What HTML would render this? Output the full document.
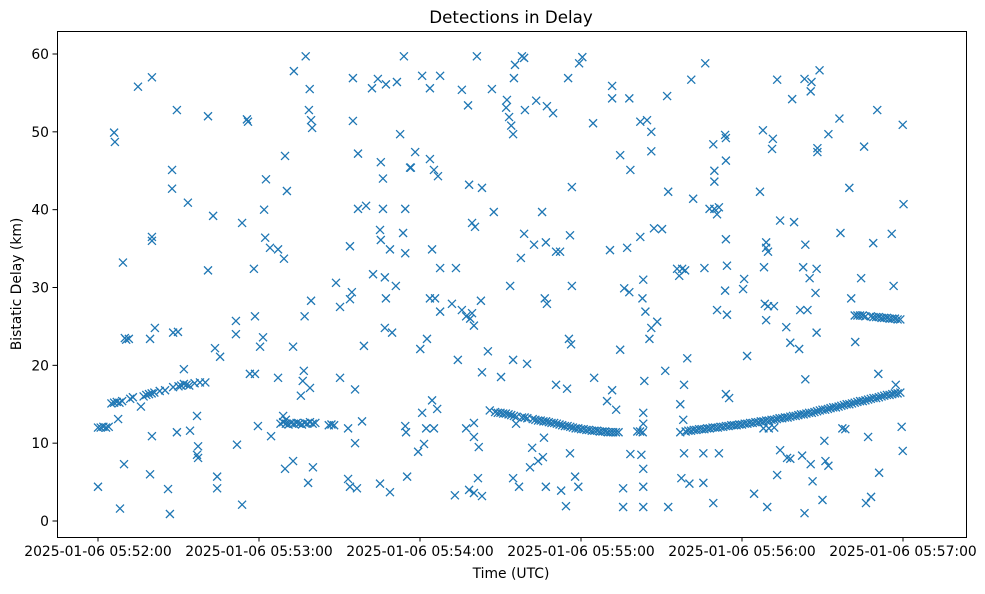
<!DOCTYPE html>
<html><head><meta charset="utf-8"><style>
body{margin:0;background:#fff;font-family:"DejaVu Sans",sans-serif}
svg text{font-family:"DejaVu Sans",sans-serif;fill:#000}
</style></head><body>
<svg id="chart" width="985" height="590" xmlns="http://www.w3.org/2000/svg">
<rect width="985" height="590" fill="#fff"/>
<text x="511" y="23" font-size="16.7" text-anchor="middle">Detections in Delay</text>
<text x="511" y="578" font-size="13.9" text-anchor="middle">Time (UTC)</text>
<text x="21" y="284" font-size="13.9" text-anchor="middle" transform="rotate(-90 21 284)">Bistatic Delay (km)</text>
<g id="ticks"></g>
<g id="marks"></g>
<rect x="57.5" y="31.5" width="909" height="506" fill="none" stroke="#000" stroke-width="1"/>
</svg>
<script>
const xTickSeconds=[0,60,120,180,240,300];
const xTickLabels=["2025-01-06 05:52:00","2025-01-06 05:53:00","2025-01-06 05:54:00","2025-01-06 05:55:00","2025-01-06 05:56:00","2025-01-06 05:57:00"];
const yTicks=[0,10,20,30,40,50,60];
const trackA=[[0,12],[1,12],[2,12.1],[3,12],[4,12.1],[5,15.1],[6,15.2],[7,15.3],[8,15.2],[9,15.4],[10,23.5],[10.5,23.3],[11.5,23.4],[12,15.7],[13,15.9],[16,14.7],[17,16.0],[18,16.2],[19,16.3],[20,16.4],[21,16.5],[23,16.7],[25,16.8],[28,17.2],[30,17.3],[31,17.4],[32,17.6],[33,17.5],[34,17.4],[36,17.7],[38,17.8],[40,17.8]];
const trackB=[[68,12.5],[69,12.7],[70,12.5],[71,12.4],[72,12.6],[73,12.5],[74,12.6],[75,12.5],[76,12.4],[77,12.6],[78,12.5],[79,12.7],[80,12.5],[81,12.6],[86,12.3],[87,12.4],[88,12.3],[69,13.5],[70,13.0]];
const trackC=[[146,14.2],[148,14.0],[149,13.9],[150,13.9],[151,13.8],[152,13.8],[153,13.7],[154,13.6],[155,13.5],[156,13.4],[158,13.3],[159,13.3],[160,13.2],[162,13.1],[163,13.0],[164,12.9],[165,12.9],[166,12.8],[167,12.8],[168,12.7],[169,12.6],[170,12.6],[171,12.5],[172,12.4],[173,12.3],[174,12.2],[175,12.2],[176,12.1],[177,12.0],[178,11.9],[179,11.9],[180,11.8],[181,11.8],[182,11.7],[183,11.7],[184,11.6],[185,11.6],[186,11.6],[187,11.5],[188,11.5],[189,11.5],[190,11.4],[191,11.4],[192,11.4],[193,11.4],[194,11.4],[201,11.5],[202,11.5],[203,11.4]];
const trackD=[[217,11.4],[219,11.5],[220,11.6],[221,11.6],[222,11.7],[223,11.7],[224,11.8],[225,11.8],[226,11.8],[227,11.9],[228,11.9],[229,12.0],[230,12.0],[231,12.0],[232,12.1],[233,12.1],[234,12.2],[235,12.2],[236,12.3],[237,12.3],[238,12.3],[239,12.4],[240,12.4],[241,12.5],[242,12.5],[243,12.6],[244,12.6],[245,12.7],[246,12.7],[247,12.8],[248,12.8],[249,12.9],[250,12.9],[251,13.0],[252,13.0],[253,13.1],[254,13.2],[255,13.2],[256,13.3],[257,13.3],[258,13.4],[259,13.5],[260,13.5],[261,13.6],[262,13.7],[263,13.7],[264,13.8],[265,13.9],[266,13.9],[267,14.0],[268,14.1],[269,14.2],[270,14.3],[271,14.3],[272,14.4],[273,14.5],[274,14.6],[275,14.6],[276,14.7],[277,14.8],[278,14.9],[279,15.0],[280,15.0],[281,15.1],[282,15.2],[283,15.3],[284,15.4],[285,15.4],[286,15.5],[287,15.6],[288,15.7],[289,15.8],[290,15.8],[291,15.9],[292,16.0],[293,16.1],[294,16.2],[295,16.2],[296,16.3],[297,16.4],[298,16.4],[299,16.5],[248,11.9],[250,11.9],[252,12.0]];
const trackE=[[282,26.4],[283,26.4],[284,26.4],[285,26.4],[286,26.3],[288,26.3],[289,26.2],[290,26.2],[291,26.2],[292,26.1],[293,26.1],[294,26.1],[295,26.0],[296,26.0],[297,26.0],[298,25.9],[299,25.9]];
const scatter=[[0,4.4],[6,49.9],[6.3,48.7],[8.2,1.6],[9.3,33.2],[9.7,7.3],[7.5,13.1],[14.9,55.8],[20.1,57.0],[20.1,36.5],[20.1,36.0],[19.4,6.0],[20.1,10.9],[21.2,24.8],[19.4,23.4],[27.6,45.1],[27.6,42.7],[29.4,52.8],[26.8,0.9],[26.1,4.1],[28,24.2],[29.8,24.3],[29.4,11.4],[32,19.5],[33.5,40.9],[34.3,11.6],[36.9,13.5],[37.3,9.6],[36.9,8.5],[37.3,8.1],[41,52.0],[41,32.2],[42.9,39.2],[43.6,22.2],[45.5,21.1],[44.4,5.7],[44.4,4.2],[51.8,9.8],[53.7,2.1],[51.4,25.7],[51.4,24.0],[53.7,38.3],[55.5,51.6],[55.9,51.3],[56.6,18.9],[58.5,18.9],[58.1,32.4],[58.5,26.3],[59.6,12.2],[60.4,22.4],[61.5,23.6],[62.3,36.4],[61.9,40],[62.6,43.9],[64.1,35.1],[64.5,10.9],[67.1,18.4],[67.1,34.9],[69.3,33.7],[69.7,46.9],[70.4,42.4],[69.7,6.7],[72.7,22.4],[72.7,7.7],[73,57.8],[75.6,16.1],[76.3,18.0],[76.7,19.3],[77,26.3],[77.4,59.7],[78.9,55.5],[78.6,52.8],[79.4,51.5],[79.8,50.5],[79.4,28.3],[78.3,4.9],[79,17.1],[80.1,6.9],[90.2,18.4],[90.2,27.5],[88.7,30.6],[93.2,5.4],[93.9,4.4],[96.5,4.2],[93.2,11.9],[93.9,35.3],[93.9,28.5],[94.6,29.4],[95,51.4],[95,56.9],[95.8,16.9],[95.8,10.0],[96.9,47.2],[96.9,40.1],[98.4,12.8],[99.1,22.5],[99.9,40.5],[102.1,55.6],[102.5,31.7],[104.3,56.8],[105.1,4.8],[105.1,37.4],[105.4,36.1],[105.4,46.1],[106.2,44.0],[106.2,40.1],[107.3,56.1],[106.9,24.8],[106.9,31.3],[107.3,28.6],[108.8,3.7],[108.8,34.9],[109.6,24.2],[111.4,56.4],[111,30.2],[112.6,49.7],[113.7,37.0],[114.5,40.1],[114.5,34.4],[114.5,12.2],[114.8,11.4],[114,59.7],[115.2,5.7],[116.3,45.4],[116.6,45.4],[118.2,47.4],[119.3,8.9],[120.1,22.1],[120.8,57.2],[121.5,9.9],[120.8,13.9],[122.3,11.9],[122.6,23.4],[123.7,46.5],[123.7,55.6],[123.7,28.6],[124.5,34.9],[124.5,15.5],[125.2,45.1],[126.7,44.3],[125.6,28.6],[126.4,14.4],[127.5,57.2],[127.5,26.9],[127.5,32.5],[125.2,11.9],[131.9,27.9],[133,3.3],[133.4,32.5],[134.1,20.7],[135.6,55.4],[135.6,27.1],[137.2,26.3],[137.2,11.9],[137.9,53.4],[138.3,43.2],[138.3,4.0],[138.7,26.0],[139.4,26.7],[139.4,38.3],[140.5,37.8],[140.1,3.6],[140.1,25.1],[140.1,12.6],[140.1,10.8],[141.2,59.7],[141.6,5.5],[141.9,9.5],[142.7,28.3],[143.1,42.8],[143.1,3.2],[143.1,19.1],[145.3,21.8],[147.5,39.7],[146.8,55.5],[150.2,18.5],[152.1,53.1],[152.4,54.1],[153.2,51.9],[154.7,49.7],[154,50.8],[153.6,30.2],[154.7,5.5],[154.7,20.7],[155,56.9],[155.4,58.6],[155.8,12.5],[156.9,4.4],[157.6,33.8],[158,59.7],[158.8,59.5],[158.8,36.9],[159.1,52.8],[159.9,20.2],[161,6.9],[161.8,9.4],[162.5,35.5],[163.3,54.0],[164,7.7],[165.5,39.7],[165.8,8.2],[166.2,10.7],[166.5,28.6],[166.9,35.8],[166.9,4.4],[167.3,53.3],[167.3,27.9],[169.6,52.4],[170.7,17.5],[170.7,34.6],[172.2,34.6],[172.6,3.9],[174.4,1.9],[174.8,17.0],[175.2,56.9],[175.5,23.4],[176.3,22.7],[175.9,36.7],[176.6,42.9],[177.8,5.7],[176.6,30.2],[175.9,8.7],[179,4.4],[179.3,58.8],[180.5,59.6],[184.5,51.1],[184.9,18.4],[189.7,15.4],[190.8,34.8],[191.6,55.9],[191.6,54.3],[191.6,16.8],[193.1,14.3],[194.6,22.0],[194.6,47.0],[195.7,4.2],[195.7,1.8],[196.1,29.9],[197.2,35.1],[198,29.4],[198,54.3],[198.4,45.1],[198.4,8.6],[202.1,51.3],[202.1,36.5],[202.5,8.5],[203.2,6.7],[202.9,28.6],[203.2,4.4],[203.2,1.8],[203.2,31.0],[203.2,12.5],[203.2,13.9],[204,26.9],[203.6,18.0],[204.6,51.5],[205.5,23.4],[206.2,47.5],[206.2,50.0],[206.2,24.8],[207.2,37.6],[208.4,25.6],[210.2,37.5],[211.4,19.3],[212.1,54.6],[212.5,42.3],[212.5,1.8],[215.8,32.4],[216.6,31.5],[217,15.0],[217.4,5.5],[217.7,32.4],[218.1,13.0],[218.4,17.5],[218.8,32.2],[218.4,8.7],[219.6,20.9],[220.4,4.8],[221.1,56.7],[221.8,41.4],[225.6,8.7],[225.6,4.9],[226,32.5],[226.3,58.8],[227.9,40.1],[229.3,48.4],[229.7,45.0],[229.7,43.6],[229.3,2.3],[229.7,40.1],[230.7,39.4],[230.7,27.1],[231.4,40.3],[231.4,8.7],[233.7,49.6],[234,49.2],[234,46.3],[234,36.2],[233.7,29.6],[234.4,32.8],[234.4,26.5],[234,16.3],[235.2,15.8],[240.4,29.8],[240.8,31.1],[241.9,21.2],[244.5,3.5],[246.7,42.3],[247.8,50.2],[248.2,32.6],[249,35.8],[249,35.1],[249.7,34.6],[248.5,27.9],[249.7,27.6],[249,25.8],[249.4,1.8],[251.2,47.8],[251.5,49.1],[251.9,27.6],[253.1,5.9],[253.1,56.7],[254.2,38.6],[254.2,9.1],[256.5,24.9],[256.8,8.1],[258,8.0],[258,22.9],[258.7,54.2],[259.4,38.4],[261.3,22.1],[261.7,27.1],[262.4,8.4],[262.8,32.6],[263.3,56.8],[263.6,18.2],[263.6,35.5],[263.3,1.0],[264.4,27.1],[265.2,31.2],[265.6,55.2],[265.9,56.4],[265.6,7.3],[266.3,5.1],[267.4,29.3],[267.8,24.2],[267.8,32.4],[268.1,47.9],[268.1,47.4],[268.9,57.9],[270,2.7],[270.7,10.3],[271.1,7.7],[272.2,49.7],[272.2,7.1],[276.3,51.7],[276.7,37.0],[277.4,11.9],[278.5,11.8],[280,42.8],[280.7,28.6],[282.2,23.0],[284.4,31.2],[285.5,48.1],[286.2,2.3],[287,10.8],[288.1,3.1],[288.9,35.7],[290.4,52.8],[291.1,6.2],[290.8,18.9],[295.8,36.9],[296.5,30.2],[297.3,17.5],[299.5,12.1],[299.9,9.0],[299.9,50.9],[300.2,40.7]];

const NS='http://www.w3.org/2000/svg';
const xScale=s=>98+s*(805/300);
const yScale=v=>521-v*(467/60);
const ticks=document.getElementById('ticks');
const marks=document.getElementById('marks');
function mk(tag,attrs,parent){const e=document.createElementNS(NS,tag);for(const k in attrs)e.setAttribute(k,attrs[k]);parent.appendChild(e);return e;}
xTickSeconds.forEach((s,i)=>{
  const x=xScale(s);
  const l=mk('line',{x1:x,x2:x,y1:537,y2:541.5,stroke:'#000','stroke-width':1},ticks);
  
  
  const t=mk('text',{x:x,y:556,'font-size':13.9,'text-anchor':'middle'},ticks);
  t.textContent=xTickLabels[i];
  
  
});
yTicks.forEach(v=>{
  const y=yScale(v);
  const l=mk('line',{x1:52.5,x2:57,y1:y,y2:y,stroke:'#000','stroke-width':1},ticks);
  
  
  const t=mk('text',{x:49,y:y+5,'font-size':13.9,'text-anchor':'end'},ticks);
  t.textContent=String(v);
  
  
});
[trackA,trackB,trackC,trackD,trackE,scatter].forEach(arr=>arr.forEach(p=>{
  const x=xScale(p[0]),y=yScale(p[1]),h=4;
  const m=mk('path',{d:`M${x-h},${y-h}L${x+h},${y+h}M${x-h},${y+h}L${x+h},${y-h}`,stroke:'#1f77b4','stroke-width':1.3,fill:'none'},marks);
  
  
}));
</script>
</body></html>
